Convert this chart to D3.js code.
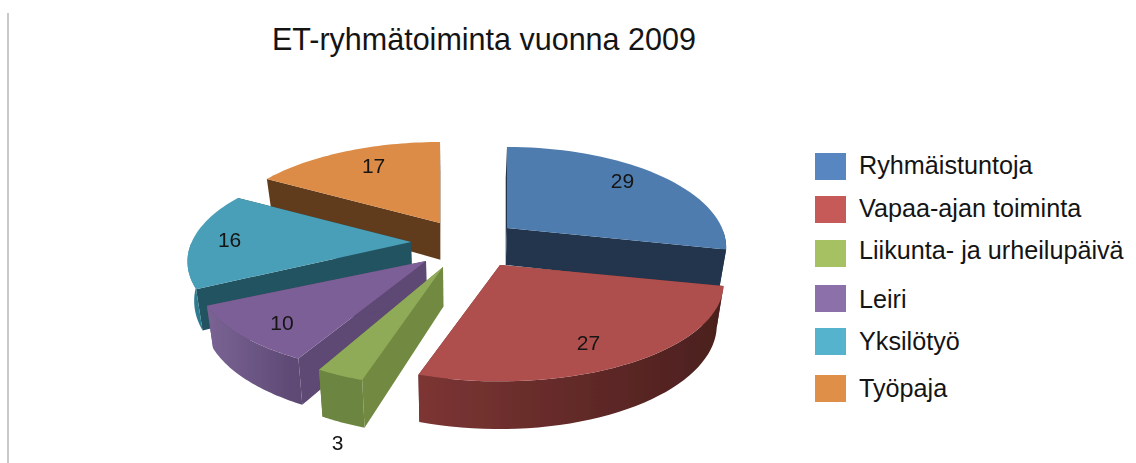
<!DOCTYPE html>
<html>
<head>
<meta charset="utf-8">
<script src="https://cdnjs.cloudflare.com/ajax/libs/d3/7.8.5/d3.min.js"></script>
<style>
  html, body { margin: 0; padding: 0; background: #fff; }
  svg { display: block; }
  text { font-family: "Liberation Sans", sans-serif; fill: #141414; }
</style>
</head>
<body>
<div id="visualization"></div>
<script>
// data
var categories = ["Ryhmäistuntoja", "Vapaa-ajan toiminta", "Liikunta- ja urheilupäivä", "Leiri", "Yksilötyö", "Työpaja"];
var values = [29, 27, 3, 10, 16, 17];
var title = "ET-ryhmätoiminta vuonna 2009";

// colours
var legendColors = ["#5786c1", "#c65a58", "#a6c162", "#8c70aa", "#56b3cd", "#e08f48"];
var topColors = ["#4f7cae", "#ae504d", "#8fab58", "#7d5f97", "#4a9fb7", "#dc8c47"];
var wallColors = ["#21364e", "#5b2826", "#71893f", "#5d4873", "#245260", "#613b1a"];
var outerLight = ["#21364e", "#7c3533", "#6c8540", "#7a6494", "#4596ad", "#613b1a"];
var outerDark = ["#21364e", "#4b1f1e", "#6c8540", "#5d4873", "#2f7a8e", "#613b1a"];

// layout
var width = 1136, height = 463;
var center = {x: 455, y: 240};
var Rx = 215, Ry = 96.7, persp = 0.194;
var explode = [[52, -12], [45, 25], [-12, 27], [-29, 21], [-44, 2], [-15, -17]];
var xScale = [1, 1.02, 1.01, 1.04, 1.02, 1.02];
var yScale = [1, 0.97, 1, 0.95, 1, 1];
var labelR = [0.76, 0.78, 1.05, 0.8, 0.85, 0.72];
var labelNudge = [[-1, -5], [-10, 5], [1, 0], [0, 4], [4, 0], [4, -4]];
var legendY = [153, 196, 240, 285, 328, 375];
var legendBaseline = [174, 217, 259, 308, 350, 397];
var drawOrder = [0, 5, 4, 3, 2, 1];

var svg = d3.select("#visualization").append("svg")
    .attr("width", width)
    .attr("height", height);

svg.append("line")
    .attr("x1", 8).attr("x2", 8)
    .attr("y1", 13).attr("y2", height)
    .attr("stroke", "#c9c9c9")
    .attr("stroke-width", 2);

svg.append("text")
    .attr("x", 272)
    .attr("y", 50)
    .attr("font-size", 30.5)
    .text(title);

var defs = svg.append("defs");
var blur = defs.append("filter").attr("id", "soft");
blur.append("feGaussianBlur").attr("stdDeviation", 0.6);

var pie = d3.pie().sort(null).value(function(d) { return d; });
var arcs = pie(values);
var line = d3.line();

// point on the tilted disc, seen in perspective
function project(angle, r, i) {
    var v = -Math.cos(angle) * r;
    var w = 1 - persp * v;
    return [
        center.x + explode[i][0] + xScale[i] * Rx * Math.sin(angle) * r / w,
        center.y + explode[i][1] + yScale[i] * Ry * v / w
    ];
}

// same point on the bottom face of the slice
function drop(p) {
    return [
        p[0] + (center.x - p[0]) * 0.025,
        p[1] + 37 + (p[1] - 228) * 0.07
    ];
}

var g = svg.append("g").attr("filter", "url(#soft)");

drawOrder.forEach(function(i) {
    var a = arcs[i];
    var steps = d3.range(0, 41).map(function(k) {
        return a.startAngle + (a.endAngle - a.startAngle) * k / 40;
    });
    var rim = steps.map(function(t) { return project(t, 1, i); });
    var apex = project(0, 0, i);

    // the two straight walls
    [rim[0], rim[rim.length - 1]].forEach(function(end) {
        g.append("path")
            .attr("d", line([apex, end, drop(end), drop(apex)]) + "Z")
            .attr("fill", wallColors[i]);
    });

    // outer wall, only the part that faces the viewer
    var front = steps.filter(function(t) { return Math.cos(t) <= 0; })
        .map(function(t) { return project(t, 1, i); });
    if (front.length > 1) {
        var xs = d3.extent(front, function(p) { return p[0]; });
        var grad = defs.append("linearGradient")
            .attr("id", "outer" + i)
            .attr("gradientUnits", "userSpaceOnUse")
            .attr("x1", xs[0]).attr("x2", xs[1])
            .attr("y1", 0).attr("y2", 0);
        grad.append("stop").attr("offset", "0%").attr("stop-color", outerLight[i]);
        grad.append("stop").attr("offset", "100%").attr("stop-color", outerDark[i]);

        g.append("path")
            .attr("d", line(front.concat(front.map(drop).reverse())) + "Z")
            .attr("fill", "url(#outer" + i + ")");
    }

    // top face
    g.append("path")
        .attr("d", line([apex].concat(rim)) + "Z")
        .attr("fill", topColors[i]);
});

// value labels
arcs.forEach(function(a, i) {
    var mid = (a.startAngle + a.endAngle) / 2;
    var p = project(mid, labelR[i], i);
    // the small slice has its label below the wall
    if (labelR[i] > 1) {
        p = drop(p);
        p[1] += 13;
    }
    g.append("text")
        .attr("x", p[0] + labelNudge[i][0])
        .attr("y", p[1] + labelNudge[i][1])
        .attr("text-anchor", "middle")
        .attr("dominant-baseline", "central")
        .attr("font-size", 21)
        .text(values[i]);
});

// legend
var legend = svg.append("g").selectAll("g")
    .data(categories)
    .enter().append("g");

legend.append("rect")
    .attr("x", 815)
    .attr("y", function(d, i) { return legendY[i]; })
    .attr("width", 31)
    .attr("height", 27)
    .attr("fill", function(d, i) { return legendColors[i]; });

legend.append("text")
    .attr("x", 859)
    .attr("y", function(d, i) { return legendBaseline[i]; })
    .attr("font-size", 25.2)
    .text(function(d) { return d; });
</script>
</body>
</html>
